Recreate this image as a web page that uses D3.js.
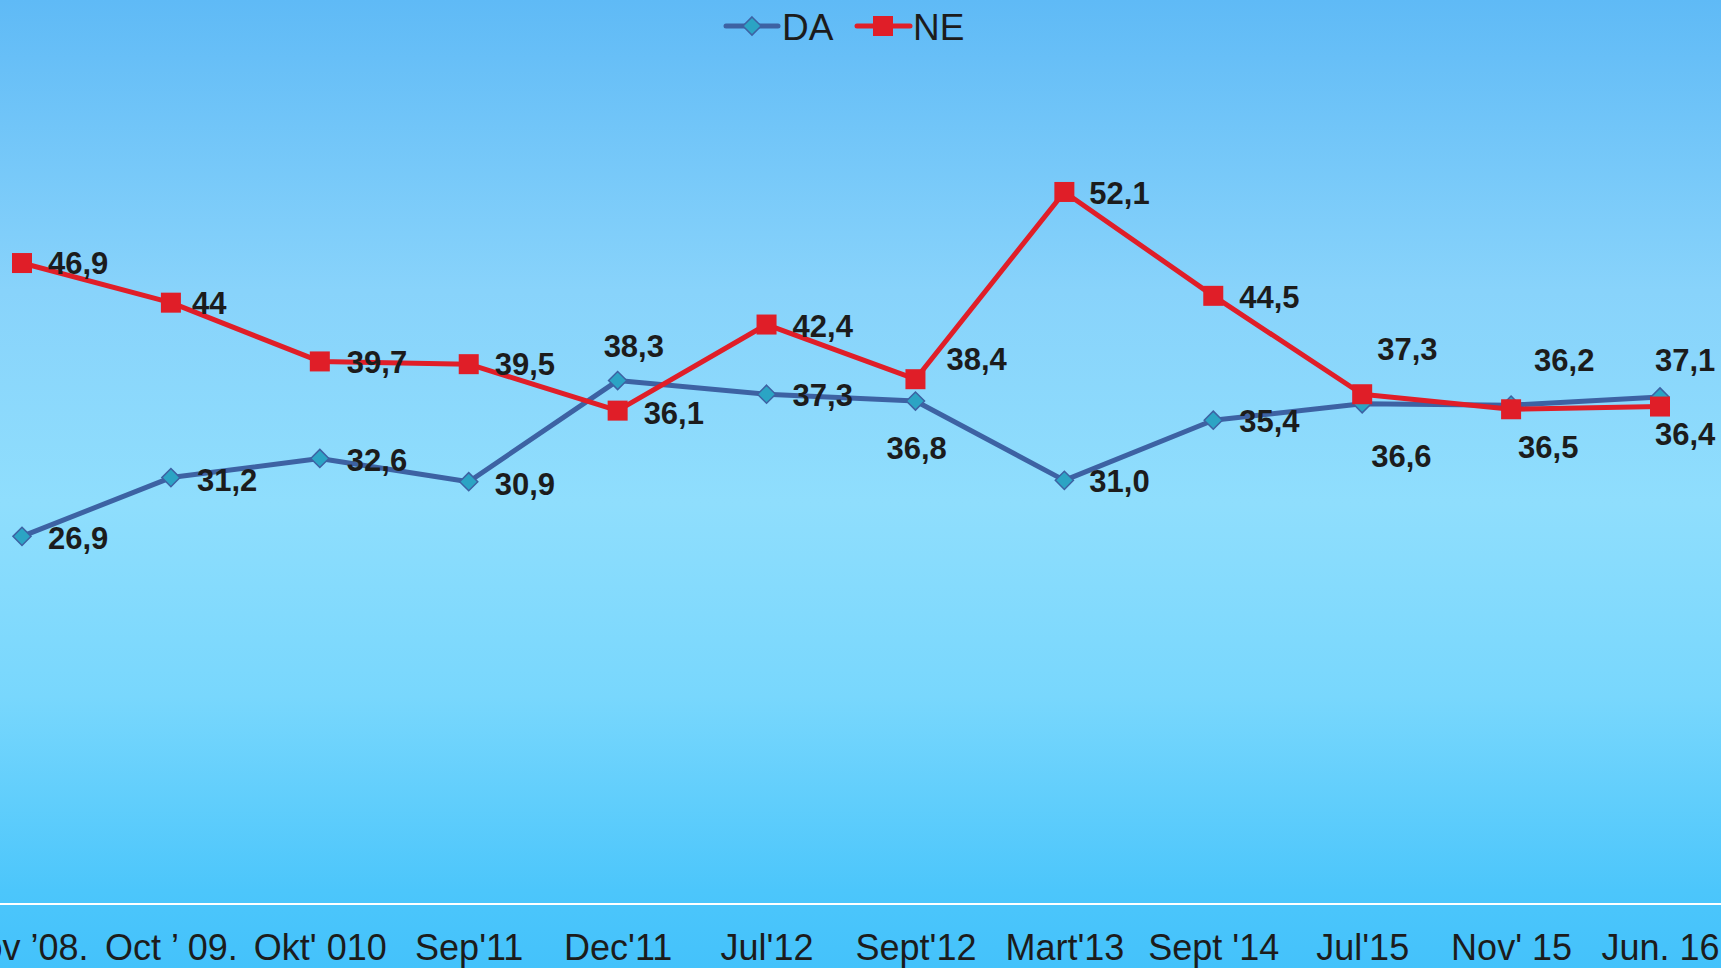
<!DOCTYPE html>
<html>
<head>
<meta charset="utf-8">
<script src="https://cdn.jsdelivr.net/npm/d3@7"></script>
<style>
  html, body { margin: 0; padding: 0; overflow: hidden; }
  svg { display: block; font-family: "Liberation Sans", Arial, sans-serif; }
</style>
</head>
<body>
<svg width="1721" height="968"></svg>
<script>
// chart data
const categories = ["Nov \u201908.", "Oct \u2019 09.", "Okt' 010", "Sep'11", "Dec'11", "Jul'12",
  "Sept'12", "Mart'13", "Sept '14", "Jul'15", "Nov' 15", "Jun. 16"];
const daValues = [26.9, 31.2, 32.6, 30.9, 38.3, 37.3, 36.8, 31.0, 35.4, 36.6, 36.5, 37.1];
const neValues = [46.9, 44, 39.7, 39.5, 36.1, 42.4, 38.4, 52.1, 44.5, 37.3, 36.2, 36.4];
const daText = ["26,9", "31,2", "32,6", "30,9", "38,3", "37,3", "36,8", "31,0", "35,4", "36,6", "36,5", "37,1"];
const neText = ["46,9", "44", "39,7", "39,5", "36,1", "42,4", "38,4", "52,1", "44,5", "37,3", "36,2", "36,4"];

// label nudges (left edge / vertical centre), like manually dragged labels
const daNudge = [[26,1],[26,2],[27,1],[26,2],[-14,-35],[26,1],[-29,47],[25,1],[26,1],[9,52],[7,42],[-5,-37]];
const neNudge = [[26,0],[21,0],[27,0],[26,0],[26,2],[26,1],[31,-20],[25,1],[26,1],[15,-45],[23,-49],[-5,27]];

const W = 1721, H = 968;
const svg = d3.select("svg");

// background gradient
const defs = svg.append("defs");
const grad = defs.append("linearGradient").attr("id", "bg")
  .attr("x1", 0).attr("y1", 0).attr("x2", 0).attr("y2", 1);
[["0%", "#5fbaf6"], ["30%", "#88d3fb"], ["52%", "#8fdefd"], ["72%", "#78d7fd"], ["92%", "#4cc6fb"], ["100%", "#44c2fb"]]
  .forEach(s => grad.append("stop").attr("offset", s[0]).attr("stop-color", s[1]));
svg.append("rect").attr("width", W).attr("height", H).attr("fill", "url(#bg)");

// scales: 12 equal bands, plot slightly wider than the window
const x = d3.scalePoint().domain(categories).range([22, 1660]);
const y = d3.scaleLinear().domain([0, 60]).range([904, 84]);

// x axis
const xAxis = svg.append("g").attr("transform", "translate(0,904)")
  .call(d3.axisBottom(x).tickSize(0).tickPadding(30));
xAxis.select(".domain").attr("stroke", "#ffffff").attr("stroke-width", 2)
  .attr("d", `M0,0H${W}`);
xAxis.selectAll("text").attr("font-size", 36).attr("fill", "#1c1c1c")
  .attr("font-family", "Liberation Sans, Arial, sans-serif");

const line = d3.line().x((d, i) => x(categories[i])).y(d => y(d));

const DA_LINE = "#3d62a3", DA_FILL = "#2ba4c4";
const NE_COL = "#e01e28";

// DA series
svg.append("path").datum(daValues).attr("d", line)
  .attr("fill", "none").attr("stroke", DA_LINE).attr("stroke-width", 5)
  .attr("stroke-linejoin", "round");
const diamond = d3.symbol().type(d3.symbolDiamond2).size(210);
svg.selectAll(".da-pt").data(daValues).enter().append("path")
  .attr("class", "da-pt")
  .attr("d", diamond)
  .attr("transform", (d, i) => `translate(${x(categories[i])},${y(d)})`)
  .attr("fill", DA_FILL).attr("stroke", DA_LINE).attr("stroke-width", 1.5);

// NE series
svg.append("path").datum(neValues).attr("d", line)
  .attr("fill", "none").attr("stroke", NE_COL).attr("stroke-width", 5)
  .attr("stroke-linejoin", "round");
svg.selectAll(".ne-pt").data(neValues).enter().append("rect")
  .attr("class", "ne-pt")
  .attr("x", (d, i) => x(categories[i]) - 10)
  .attr("y", d => y(d) - 10)
  .attr("width", 20).attr("height", 20)
  .attr("fill", NE_COL);

// data labels
function labels(vals, texts, nudge) {
  svg.append("g").selectAll("text").data(vals).enter().append("text")
    .text((d, i) => texts[i])
    .attr("x", (d, i) => x(categories[i]) + nudge[i][0])
    .attr("y", (d, i) => y(d) + nudge[i][1])
    .attr("dy", "0.36em")
    .attr("font-size", 31).attr("font-weight", "bold").attr("fill", "#1c1c1c");
}
labels(daValues, daText, daNudge);
labels(neValues, neText, neNudge);

// legend
const leg = svg.append("g");
leg.append("line").attr("x1", 726).attr("x2", 778).attr("y1", 26).attr("y2", 26)
  .attr("stroke", DA_LINE).attr("stroke-width", 5).attr("stroke-linecap", "round");
leg.append("path").attr("d", diamond).attr("transform", "translate(752,26)")
  .attr("fill", DA_FILL).attr("stroke", DA_LINE).attr("stroke-width", 1.5);
leg.append("text").attr("x", 782).attr("y", 40).text("DA")
  .attr("font-size", 37).attr("fill", "#1c1c1c");
leg.append("line").attr("x1", 857).attr("x2", 910).attr("y1", 26).attr("y2", 26)
  .attr("stroke", NE_COL).attr("stroke-width", 5).attr("stroke-linecap", "round");
leg.append("rect").attr("x", 873).attr("y", 16).attr("width", 20).attr("height", 20)
  .attr("fill", NE_COL);
leg.append("text").attr("x", 913).attr("y", 40).text("NE")
  .attr("font-size", 37).attr("fill", "#1c1c1c");
</script>
</body>
</html>
